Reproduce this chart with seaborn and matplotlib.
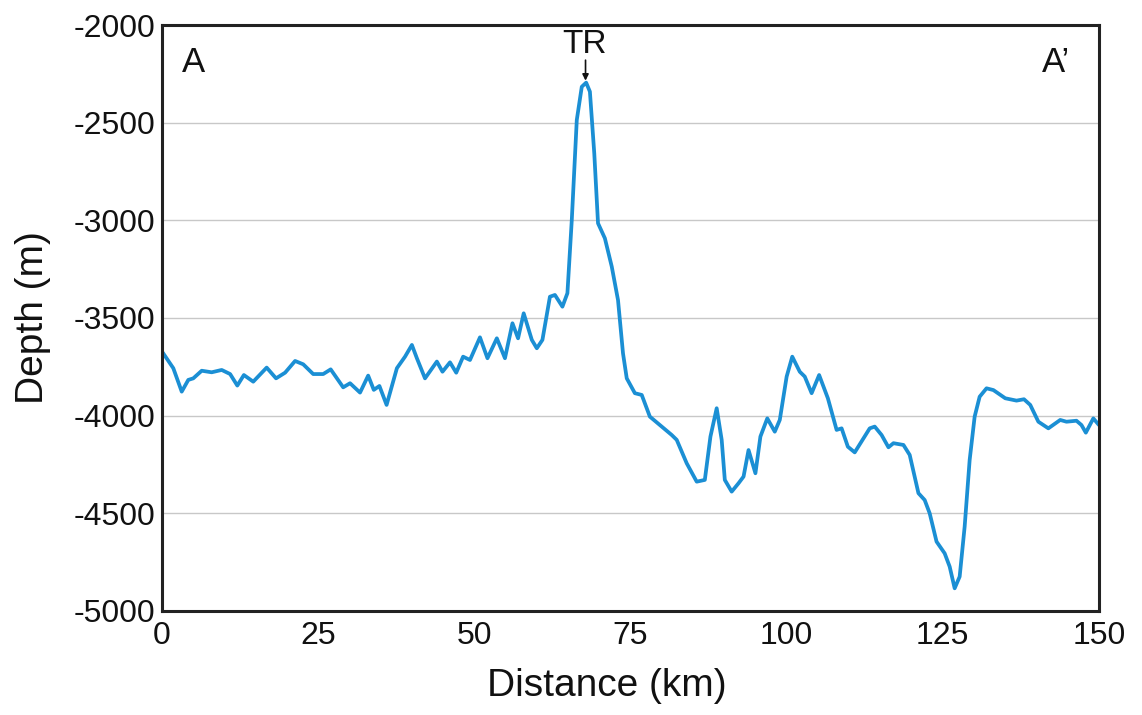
import numpy as np
import pandas as pd
import seaborn as sns
import matplotlib
matplotlib.use("Agg")
import matplotlib.pyplot as plt

distance_km = [
    0.0, 1.8, 3.15, 4.2, 5.0, 6.35, 7.95, 9.55, 10.9, 12.05, 13.1, 14.6, 16.75, 18.25,
    19.7, 21.3, 22.6, 24.2, 25.8, 27.0, 29.0, 30.1, 31.7, 33.0, 33.9, 34.8, 35.95,
    37.6, 38.9, 40.0, 40.8, 42.1, 44.0, 44.9, 46.1, 47.1, 48.2, 49.3, 50.9, 52.1,
    53.6, 54.9, 56.1, 57.0, 57.9, 59.2, 60.0, 60.9, 62.1, 62.9, 64.1, 64.9, 65.6,
    66.4, 67.2, 67.9, 68.5, 69.2, 69.8, 70.9, 72.0, 73.0, 73.8, 74.4, 75.7, 76.8,
    78.1, 79.7, 81.6, 82.4, 84.0, 85.6, 86.9, 87.8, 88.8, 89.6, 90.1, 91.2, 92.3,
    93.1, 93.9, 95.0, 95.8, 96.9, 98.1, 98.9, 100.0, 100.9, 102.1, 102.9, 104.0,
    105.2, 106.6, 108.0, 108.8, 109.8, 110.9, 113.3, 114.1, 115.2, 116.3, 117.1,
    118.7, 119.7, 121.1, 122.1, 122.9, 124.0, 125.3, 126.1, 126.9, 127.7, 128.5,
    129.3, 130.1, 130.9, 132.0, 133.1, 135.0, 136.8, 138.0, 139.0, 140.3, 141.9,
    143.8, 144.8, 146.4, 147.2, 147.9, 149.1, 150.0,
]
depth_m = [
    -3672, -3757, -3877, -3817, -3809, -3770, -3778, -3766, -3787, -3846, -3792, -3826,
    -3754, -3809, -3780, -3720, -3737, -3787, -3787, -3763, -3855, -3834, -3882, -3795,
    -3868, -3848, -3945, -3757, -3698, -3638, -3706, -3809, -3723, -3775, -3727, -3780,
    -3698, -3715, -3599, -3706, -3604, -3706, -3527, -3604, -3476, -3612, -3655, -3612,
    -3391, -3382, -3442, -3373, -2998, -2486, -2316, -2295, -2341, -2657, -3015, -3092,
    -3237, -3408, -3681, -3809, -3885, -3894, -4005, -4048, -4099, -4124, -4244, -4338,
    -4329, -4107, -3962, -4124, -4329, -4389, -4346, -4312, -4176, -4295, -4107, -4014,
    -4082, -4022, -3800, -3698, -3775, -3800, -3885, -3792, -3911, -4073, -4065, -4159,
    -4188, -4065, -4056, -4099, -4162, -4141, -4150, -4201, -4397, -4432, -4500, -4645,
    -4705, -4773, -4884, -4824, -4568, -4227, -4005, -3903, -3860, -3869, -3911, -3923,
    -3916, -3945, -4031, -4065, -4022, -4031, -4026, -4048, -4087, -4014, -4048,
]
x_ticks = [0, 25, 50, 75, 100, 125, 150]
y_ticks = [-2000, -2500, -3000, -3500, -4000, -4500, -5000]

df = pd.DataFrame({"Distance (km)": distance_km, "Depth (m)": depth_m})

sns.set_theme(style="white")
plt.rcParams["font.family"] = ["Liberation Sans", "DejaVu Sans"]

fig = plt.figure(figsize=(11.42, 7.15), dpi=100)
ax = fig.add_axes([0.1419, 0.1455, 0.8204, 0.8195])

ax.yaxis.grid(True, color="#c8c8c8", linewidth=1.0)
ax.set_axisbelow(True)

sns.lineplot(data=df, x="Distance (km)", y="Depth (m)", ax=ax,
             color="#1b8fd4", linewidth=2.7, sort=False,
             solid_joinstyle="round", solid_capstyle="round")

ax.set_xlim(0, 150)
ax.set_ylim(-5000, -2000)
ax.set_xticks(x_ticks)
ax.set_yticks(y_ticks)
ax.set_xticklabels([str(t) for t in x_ticks])
ax.set_yticklabels([str(t) for t in y_ticks])
ax.tick_params(axis="both", labelsize=23, colors="#111111")
ax.tick_params(axis="y", direction="out", length=5, width=1.5, color="#222222", pad=0)
ax.tick_params(axis="x", direction="in", length=5, width=1.5, color="#222222", pad=7)

for s in ax.spines.values():
    s.set_color("#222222")
    s.set_linewidth(2.2)

ax.set_xlabel("Distance (km)", fontsize=28, color="#111111")
ax.set_ylabel("Depth (m)", fontsize=28, color="#111111")
ax.xaxis.set_label_coords(0.475, -0.098)
ax.yaxis.set_label_coords(-0.119, 0.5)

ax.text(5.0, -2190, "A", fontsize=25, ha="center", va="center", color="#111111")
ax.text(143.2, -2190, "A\u2019", fontsize=25, ha="center", va="center", color="#111111")
ax.text(67.7, -2100, "TR", fontsize=24, ha="center", va="center", color="#111111")
ax.annotate("", xy=(67.8, -2285), xytext=(67.8, -2180),
            arrowprops=dict(arrowstyle="-|>", color="#111111", lw=1.2,
                            mutation_scale=9, shrinkA=0, shrinkB=0))

fig.savefig("out.png", dpi=100)
